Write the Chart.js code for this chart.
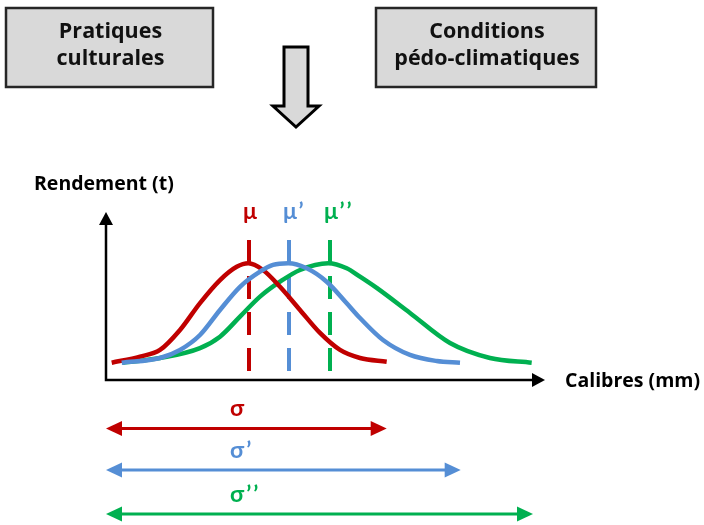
<!DOCTYPE html>
<html>
<head>
<meta charset="utf-8">
<script src="https://cdn.jsdelivr.net/npm/chart.js@4.4.1/dist/chart.umd.min.js"></script>
<style>
    html, body { margin: 0; padding: 0; background: #fff; }
    #wrap { width: 704px; height: 525px; }
</style>
</head>
<body>
<div id="wrap"><canvas id="chart" width="704" height="525"></canvas></div>
<script>
// Curves (x = calibre, y = rendement)
const redX = [0.57, 3.4, 5.4, 7.4, 9.4, 11.4, 13.07, 14.23, 15.7, 17.4, 19.4, 21.4, 23.4, 25.4, 28.07];
const redY = [1.03, 1.39, 1.79, 2.98, 4.58, 5.95, 6.74, 6.95, 6.55, 5.55, 4.17, 2.8, 1.79, 1.31, 1.09];
const blueX = [1.57, 5.4, 7.4, 9.4, 11.4, 13.4, 15.4, 16.7, 18.23, 20.07, 22.07, 24.07, 25.4, 27.7, 30.4, 33.07, 35.4];
const blueY = [1.03, 1.31, 1.79, 2.68, 4.17, 5.55, 6.45, 6.85, 6.95, 6.65, 5.85, 4.57, 3.69, 2.38, 1.49, 1.13, 1.03];
const greenX = [1.7, 5.4, 9.4, 11.4, 13.4, 15.4, 17.4, 19.4, 22.23, 24.07, 25.4, 27.07, 30.4, 34.4, 38.4, 42.57];
const greenY = [1.03, 1.31, 1.9, 2.58, 3.77, 4.96, 5.85, 6.55, 6.95, 6.65, 6.15, 5.48, 3.99, 2.2, 1.31, 1.03];

// Means and spreads
const meanLabels = ['μ', 'μ’', 'μ’’'];
const meanX = [14.3, 18.3, 22.4];
const meanRange = [8.33, 0.42];
const sigmaLabels = ['σ', 'σ’', 'σ’’'];
const sigmaStart = [0, 0, 0];
const sigmaEnd = [28.07, 35.47, 42.7];

// Boxes above the chart
const boxLabels = [['Pratiques', 'culturales'], ['Conditions', 'pédo-climatiques']];
const axisTitles = ['Rendement (t)', 'Calibres (mm)'];

const colors = ['#c00000', '#558ed5', '#00b050'];

const toPoints = (xs, ys) => xs.map((x, i) => ({ x: x, y: ys[i] }));

function curveDataset(xs, ys, color) {
    return {
        data: toPoints(xs, ys),
        borderColor: color,
        borderWidth: 4.5,
        pointRadius: 0,
        cubicInterpolationMode: 'monotone',
        fill: false
    };
}

function meanDataset(x, color) {
    return {
        data: meanRange.map(y => ({ x: x, y: y })),
        borderColor: color,
        borderWidth: 4,
        borderDash: [23, 13],
        borderCapStyle: 'butt',
        pointRadius: 0,
        fill: false
    };
}

function arrowHead(ctx, x, y, angle, len, half) {
    ctx.save();
    ctx.translate(x, y);
    ctx.rotate(angle);
    ctx.beginPath();
    ctx.moveTo(0, 0);
    ctx.lineTo(-len, -half);
    ctx.lineTo(-len, half);
    ctx.closePath();
    ctx.fill();
    ctx.restore();
}

const diagramPlugin = {
    id: 'diagram',
    afterDraw(chart) {
        const ctx = chart.ctx;
        const xs = chart.scales.x;
        const area = chart.chartArea;

        ctx.save();

        // boxes
        const boxes = [[6, 8, 207, 79], [376, 8, 220, 79]];
        boxes.forEach((b, i) => {
            ctx.fillStyle = '#d9d9d9';
            ctx.fillRect(b[0], b[1], b[2], b[3]);
            ctx.strokeStyle = '#262626';
            ctx.lineWidth = 2.5;
            ctx.strokeRect(b[0], b[1], b[2], b[3]);
            ctx.fillStyle = '#111';
            ctx.font = 'bold 21.5px "Open Sans"';
            ctx.textAlign = 'center';
            ctx.textBaseline = 'alphabetic';
            ctx.fillText(boxLabels[i][0], b[0] + b[2] / 2 + 1, 38);
            ctx.fillText(boxLabels[i][1], b[0] + b[2] / 2 + 1, 65);
        });

        // block arrow
        ctx.beginPath();
        ctx.moveTo(284, 47);
        ctx.lineTo(308, 47);
        ctx.lineTo(308, 106);
        ctx.lineTo(319, 106);
        ctx.lineTo(296, 127);
        ctx.lineTo(273, 106);
        ctx.lineTo(284, 106);
        ctx.closePath();
        ctx.fillStyle = '#d9d9d9';
        ctx.fill();
        ctx.strokeStyle = '#000';
        ctx.lineWidth = 3;
        ctx.lineJoin = 'miter';
        ctx.stroke();

        // axes
        ctx.strokeStyle = '#000';
        ctx.fillStyle = '#000';
        ctx.lineWidth = 2.5;
        ctx.beginPath();
        ctx.moveTo(area.left, area.top + 10);
        ctx.lineTo(area.left, area.bottom);
        ctx.lineTo(area.right - 10, area.bottom);
        ctx.stroke();
        arrowHead(ctx, area.left, area.top, -Math.PI / 2, 13, 7);
        arrowHead(ctx, area.right, area.bottom, 0, 13, 7);

        ctx.font = 'bold 19.5px "Open Sans"';
        ctx.textAlign = 'left';
        ctx.fillText(axisTitles[0], 34, 190);
        ctx.fillText(axisTitles[1], 565, 387);

        // mean labels
        ctx.font = 'bold 23px Lato';
        ctx.letterSpacing = '2px';
        meanLabels.forEach((label, i) => {
            const w = ctx.measureText('μ').width;
            ctx.fillStyle = colors[i];
            ctx.fillText(label, xs.getPixelForValue(meanX[i]) - w / 2 + 2, 219);
        });

        // sigma arrows
        const rows = [428.5, 470, 514];
        sigmaLabels.forEach((label, i) => {
            const x0 = xs.getPixelForValue(sigmaStart[i]);
            const x1 = xs.getPixelForValue(sigmaEnd[i]);
            const y = rows[i];
            ctx.strokeStyle = colors[i];
            ctx.fillStyle = colors[i];
            ctx.lineWidth = 3;
            ctx.beginPath();
            ctx.moveTo(x0 + 10, y);
            ctx.lineTo(x1 - 10, y);
            ctx.stroke();
            arrowHead(ctx, x0, y, Math.PI, 16, 7.5);
            arrowHead(ctx, x1, y, 0, 16, 7.5);
            ctx.fillText(label, 230, y - 12.5);
        });

        ctx.restore();
    }
};

new Chart(document.getElementById('chart'), {
    type: 'line',
    data: {
        datasets: [
            curveDataset(blueX, blueY, colors[1]),
            curveDataset(redX, redY, colors[0]),
            curveDataset(greenX, greenY, colors[2]),
            meanDataset(meanX[0], colors[0]),
            meanDataset(meanX[1], colors[1]),
            meanDataset(meanX[2], colors[2])
        ]
    },
    options: {
        responsive: false,
        animation: false,
        devicePixelRatio: 1,
        layout: { padding: { left: 106, right: 159, top: 212, bottom: 145 } },
        plugins: {
            legend: { display: false },
            tooltip: { enabled: false }
        },
        scales: {
            x: { type: 'linear', min: 0, max: 43.9, display: false },
            y: { type: 'linear', min: 0, max: 10, display: false }
        }
    },
    plugins: [diagramPlugin]
});
</script>
</body>
</html>
